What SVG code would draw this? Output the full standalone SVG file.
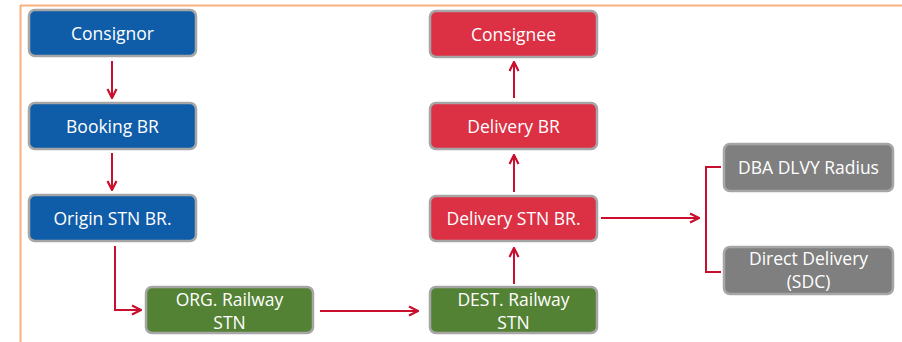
<svg xmlns="http://www.w3.org/2000/svg" width="902" height="342" viewBox="0 0 902 342">
<defs>
<marker id="ah" viewBox="0 0 12 12" refX="11" refY="6" markerWidth="12" markerHeight="12" markerUnits="userSpaceOnUse" orient="auto">
<polyline points="2,1.5 11,6 2,10.5" fill="none" stroke="#C8102E" stroke-width="2.2"/>
</marker>
</defs>
<style>
.box{stroke:#A6A6A6;stroke-width:2.5}
.blue{fill:#0F5CA8}
.red{fill:#DC3044}
.green{fill:#548235}
.gray{fill:#7F7F7F}
.t{font-family:"Open Sans","Liberation Sans",sans-serif;font-size:17.5px;fill:#FFFFFF;text-anchor:middle}
.c{fill:none;stroke:#C8102E;stroke-width:2}
</style>
<rect width="902" height="342" fill="#FFFFFF"/>
<g id="frame" fill="none" stroke="#F8B080" stroke-width="2">
<line x1="20" y1="5.5" x2="902" y2="5.5"/>
<line x1="20.5" y1="5" x2="20.5" y2="342"/>
</g>
<g id="connectors">
<line class="c" x1="112" y1="61" x2="112" y2="98" marker-end="url(#ah)"/>
<line class="c" x1="112" y1="153" x2="112" y2="190" marker-end="url(#ah)"/>
<polyline class="c" points="115,246 115,310 141,310" marker-end="url(#ah)"/>
<line class="c" x1="320" y1="311" x2="418" y2="311" marker-end="url(#ah)"/>
<line class="c" x1="514" y1="284" x2="514" y2="248" marker-end="url(#ah)"/>
<line class="c" x1="514" y1="192" x2="514" y2="155" marker-end="url(#ah)"/>
<line class="c" x1="514" y1="98" x2="514" y2="62" marker-end="url(#ah)"/>
<line class="c" x1="601" y1="218" x2="699" y2="218" marker-end="url(#ah)"/>
<polyline class="c" points="721,167 706,167 706,272 721,272"/>
</g>
<g id="consignor"><rect class="box blue" x="29" y="10" width="167" height="46" rx="6"/><text class="t" x="112.5" y="39.5">Consignor</text></g>
<g id="booking-br"><rect class="box blue" x="29" y="103" width="167" height="46" rx="6"/><text class="t" x="112.5" y="132.5">Booking BR</text></g>
<g id="origin-stn-br"><rect class="box blue" x="29" y="195" width="167" height="46" rx="6"/><text class="t" x="112.5" y="224.5">Origin STN BR.</text></g>
<g id="org-railway-stn"><rect class="box green" x="146" y="287" width="167" height="46" rx="6"/><text class="t" x="229.5" y="306">ORG. Railway</text><text class="t" x="229.5" y="329">STN</text></g>
<g id="dest-railway-stn"><rect class="box green" x="430" y="287" width="167" height="46" rx="6"/><text class="t" x="513.5" y="306">DEST. Railway</text><text class="t" x="513.5" y="329">STN</text></g>
<g id="delivery-stn-br"><rect class="box red" x="430" y="196" width="167" height="45" rx="6"/><text class="t" x="513.5" y="224.5">Delivery STN BR.</text></g>
<g id="delivery-br"><rect class="box red" x="430" y="103" width="167" height="46" rx="6"/><text class="t" x="513.5" y="132.5">Delivery BR</text></g>
<g id="consignee"><rect class="box red" x="430" y="11" width="167" height="46" rx="6"/><text class="t" x="513.5" y="40.5">Consignee</text></g>
<g id="dba-dlvy-radius"><rect class="box gray" x="724" y="144" width="169" height="47" rx="6"/><text class="t" x="808.5" y="173.5">DBA DLVY Radius</text></g>
<g id="direct-delivery"><rect class="box gray" x="724" y="247" width="169" height="47" rx="6"/><text class="t" x="808.5" y="265">Direct Delivery</text><text class="t" x="808.5" y="288">(SDC)</text></g>
</svg>
